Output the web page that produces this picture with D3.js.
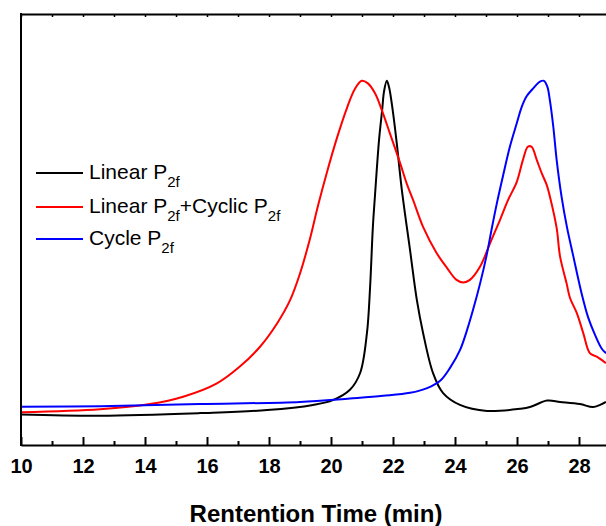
<!DOCTYPE html>
<html lang="en">
<head>
    <meta charset="UTF-8">
    <script src="https://cdn.jsdelivr.net/npm/d3@7"></script>
    <title>GPC traces</title>
    <style>
        body { margin: 0; background: #fff; }
        svg { display: block; font-family: "Liberation Sans", Arial, sans-serif; }
    </style>
</head>
<body>
</body>
<script>

    // retention time (min) and detector signal (a.u.)
    let linearTime = [10.00, 12.55, 15.77, 17.94, 19.42, 20.06, 20.61, 20.94, 21.16, 21.26, 21.35, 21.42, 21.55, 21.65, 21.71, 21.80,
        21.87, 21.99, 22.12, 22.28, 22.55, 22.77, 22.97, 23.29, 23.61, 24.16, 25.03, 26.10, 26.42, 26.97, 27.39, 28.03, 28.45, 28.68, 28.87];
    let linearSignal = [7.1, 6.8, 7.4, 8.1, 9.3, 10.4, 12.8, 16.7, 26.0, 36.5, 50.5, 58.0, 70.8, 77.7, 82.0, 84.5,
        83.1, 77.7, 70.1, 59.5, 45.2, 33.6, 26.0, 16.7, 12.1, 9.3, 7.9, 8.4, 8.8, 10.3, 10.0, 9.5, 8.8, 9.3, 10.0];

    let mixTime = [10.00, 12.55, 14.16, 15.23, 16.32, 17.06, 17.71, 18.26, 18.68, 19.00, 19.32, 19.58, 19.87, 20.19, 20.52, 20.77,
        20.99, 21.19, 21.42, 21.64, 21.90, 22.23, 22.44, 22.65, 22.97, 23.41, 23.74, 24.05, 24.26, 24.48, 24.81, 25.13, 25.45,
        25.71, 25.99, 26.19, 26.35, 26.47, 26.64, 26.80, 26.96, 27.09, 27.28, 27.39, 27.60, 27.71, 27.93, 28.14, 28.35, 28.57, 28.87];
    let mixSignal = [7.6, 8.3, 9.5, 11.2, 14.3, 18.2, 22.8, 28.2, 33.6, 39.8, 47.8, 55.5, 63.3, 71.2, 78.3, 82.6,
        84.5, 83.9, 81.6, 77.7, 72.3, 65.4, 60.7, 56.8, 50.6, 44.5, 41.1, 38.3, 37.7, 38.3, 41.4, 46.8, 52.2,
        56.8, 61.0, 66.1, 69.2, 69.2, 66.1, 63.0, 60.3, 56.8, 50.3, 43.7, 37.5, 34.1, 30.6, 25.9, 21.3, 20.5, 19.0];

    let cyclicTime = [10.00, 12.55, 15.77, 19.00, 20.61, 21.68, 22.55, 23.10, 23.52, 23.84, 24.16, 24.39, 24.58, 24.81, 25.02, 25.18,
        25.36, 25.56, 25.77, 25.99, 26.15, 26.31, 26.53, 26.74, 26.87, 26.98, 27.06, 27.17, 27.28, 27.44, 27.61, 27.81, 28.09,
        28.30, 28.52, 28.73, 28.87];
    let cyclicSignal = [8.9, 9.0, 9.5, 10.0, 10.8, 11.4, 12.1, 13.2, 14.9, 17.9, 22.0, 26.7, 31.3, 37.5, 44.0, 50.0,
        56.4, 62.8, 69.2, 74.6, 78.4, 80.9, 82.8, 84.3, 84.5, 83.1, 80.0, 73.9, 66.1, 57.5, 50.6, 44.0, 35.0,
        29.5, 25.5, 22.4, 21.3];

    let seriesNames = ["Linear P", "Linear P", "Cycle P"];
    let seriesColors = ["#000000", "#ff0000", "#0000ff"];
    let xTicks = [10, 12, 14, 16, 18, 20, 22, 24, 26, 28];

    let width = 606, height = 526;
    let plotLeft = 21, plotTop = 14, plotBottom = 445;

    let svg = d3.select("body")
        .append("svg")
        .attr("width", width)
        .attr("height", height);

    let x = d3.scaleLinear().domain([10, 30]).range([plotLeft, plotLeft + 31 * 20]);
    let y = d3.scaleLinear().domain([0, 100]).range([plotBottom, plotTop]);

    let series = [
        d3.zip(linearTime, linearSignal),
        d3.zip(mixTime, mixSignal),
        d3.zip(cyclicTime, cyclicSignal)
    ];

    let line = d3.line()
        .x(d => x(d[0]))
        .y(d => y(d[1]))
        .curve(d3.curveCatmullRom.alpha(0.5));

    svg.selectAll("path.trace")
        .data(series)
        .join("path")
        .attr("class", "trace")
        .attr("d", line)
        .attr("fill", "none")
        .attr("stroke", (d, i) => seriesColors[i])
        .attr("stroke-width", 2);

    // frame: minor ticks first, then major ticks with labels
    let minor = d3.range(11, 30, 2);

    svg.append("g")
        .attr("transform", `translate(0,${plotBottom})`)
        .call(d3.axisBottom(x).tickValues(minor).tickSize(-4).tickFormat(""))
        .call(g => g.select(".domain").remove())
        .selectAll("line").attr("stroke-width", 2);

    let xAxis = svg.append("g")
        .attr("transform", `translate(0,${plotBottom})`)
        .call(d3.axisBottom(x).tickValues(xTicks).tickSize(-8).tickSizeOuter(0).tickPadding(14));
    xAxis.select(".domain").attr("stroke-width", 2);
    xAxis.selectAll("line").attr("stroke-width", 2);
    xAxis.selectAll("text")
        .attr("font-family", "Liberation Sans, Arial, sans-serif")
        .attr("font-size", 20)
        .attr("font-weight", "bold")
        .attr("fill", "#000");

    let topAxis = svg.append("g")
        .attr("transform", `translate(0,${plotTop})`)
        .call(d3.axisTop(x).tickValues(d3.range(10, 31)).tickSize(-3).tickSizeOuter(0).tickFormat(""));
    topAxis.select(".domain").attr("stroke-width", 2);
    topAxis.selectAll("line").attr("stroke-width", 1.5);

    svg.append("line")
        .attr("x1", plotLeft).attr("x2", plotLeft)
        .attr("y1", plotTop - 1).attr("y2", plotBottom + 1)
        .attr("stroke", "#000")
        .attr("stroke-width", 2);

    svg.append("text")
        .attr("x", 316)
        .attr("y", 522)
        .attr("text-anchor", "middle")
        .attr("font-size", 24)
        .attr("font-weight", "bold")
        .text("Rentention Time (min)");

    // legend
    let legendY = [173, 207, 239];
    let legend = svg.append("g");

    seriesNames.forEach((name, i) => {
        legend.append("line")
            .attr("x1", 36).attr("x2", 83)
            .attr("y1", legendY[i]).attr("y2", legendY[i])
            .attr("stroke", seriesColors[i])
            .attr("stroke-width", 2);

        let t = legend.append("text")
            .attr("x", 89)
            .attr("y", legendY[i] + 6)
            .attr("font-size", 21);
        t.append("tspan").text(name);
        t.append("tspan").attr("dy", 8).attr("font-size", 15).text("2f");
        if (i === 1) {
            t.append("tspan").attr("dy", -8).text("+Cyclic P");
            t.append("tspan").attr("dy", 8).attr("font-size", 15).text("2f");
        }
    });

</script>
</html>
